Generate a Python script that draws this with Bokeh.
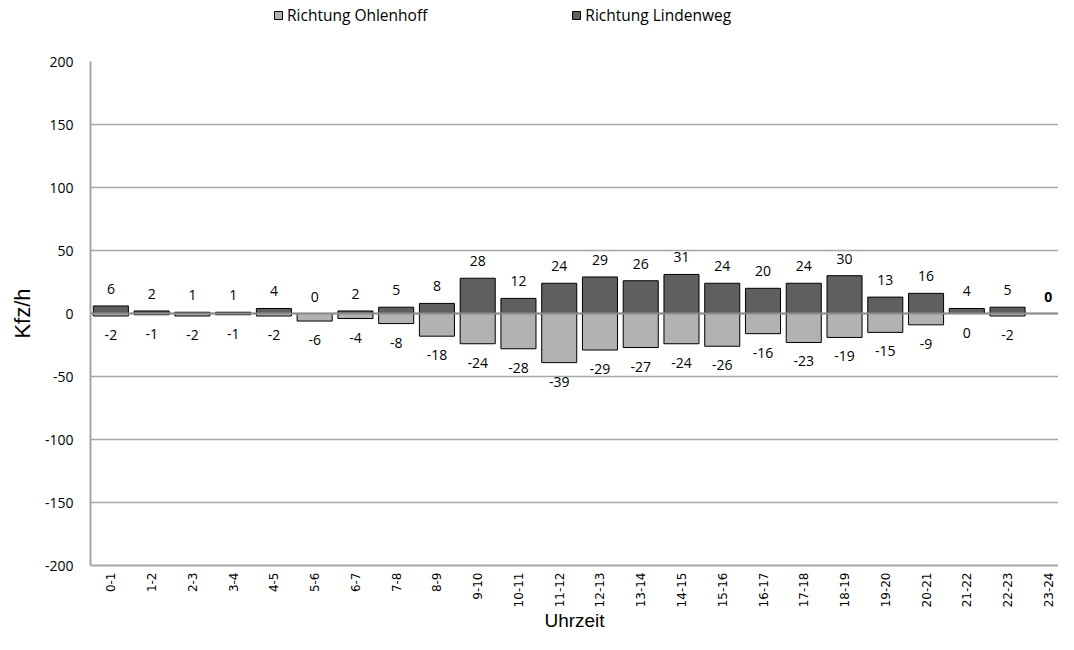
from bokeh.plotting import figure
from bokeh.layouts import column
from bokeh.models import ColumnDataSource, Span, Legend, LegendItem, FixedTicker, Range1d
from bokeh.core.properties import value
from bokeh.embed import file_html
from bokeh.resources import INLINE
import math

hours = ["0-1", "1-2", "2-3", "3-4", "4-5", "5-6", "6-7", "7-8", "8-9", "9-10",
         "10-11", "11-12", "12-13", "13-14", "14-15", "15-16", "16-17", "17-18",
         "18-19", "19-20", "20-21", "21-22", "22-23", "23-24"]
lindenweg = [6, 2, 1, 1, 4, 0, 2, 5, 8, 28, 12, 24, 29, 26, 31, 24, 20, 24, 30, 13, 16, 4, 5, 0]
ohlenhoff = [-2, -1, -2, -1, -2, -6, -4, -8, -18, -24, -28, -39, -29, -27, -24, -26, -16, -23,
             -19, -15, -9, 0, -2, 0]
y_ticks = [-200, -150, -100, -50, 0, 50, 100, 150, 200]
series_names = ["Richtung Ohlenhoff", "Richtung Lindenweg"]

DARK = "#5f5f5f"
LIGHT = "#b2b2b2"
GRID = "#a6a6a6"

# category centres on a numeric axis (the last category reaches the window edge)
xc = [i + 0.5 for i in range(len(hours))]

p = figure(x_range=Range1d(0, 23.75), y_range=(-200, 200), width=1058, height=594,
           output_backend="svg", toolbar_location=None,
           min_border_left=90, min_border_right=0, min_border_top=21, min_border_bottom=69)
p.outline_line_color = None
p.background_fill_color = "white"

src_l = ColumnDataSource(dict(x=xc, top=lindenweg,
                              lab=[str(v) for v in lindenweg],
                              style=["bold" if i == len(hours) - 1 else "normal" for i in range(len(hours))]))
src_o = ColumnDataSource(dict(x=xc[:-1], bottom=ohlenhoff[:-1],
                              lab=[str(v) for v in ohlenhoff[:-1]]))
src_o_bars = ColumnDataSource(dict(x=xc, bottom=ohlenhoff))

p.vbar(x="x", top=0, bottom="bottom", width=0.86, source=src_o_bars,
       fill_color=LIGHT, line_color="black", line_width=1)
p.vbar(x="x", top="top", bottom=0, width=0.86, source=src_l,
       fill_color=DARK, line_color="black", line_width=1)

p.add_layout(Span(location=0, dimension="width", line_color="#8c8c8c", line_width=2))

p.text(x="x", y="top", text="lab", source=src_l, y_offset=-17,
       text_align="center", text_baseline="middle", text_font=value("Open Sans"),
       text_font_size="14px", text_color="black", text_font_style="style")
p.text(x="x", y="bottom", text="lab", source=src_o, y_offset=19,
       text_align="center", text_baseline="middle", text_font=value("Open Sans"),
       text_font_size="14px", text_color="black")

# axes
p.xgrid.grid_line_color = None
p.ygrid.grid_line_color = GRID
p.ygrid.grid_line_width = 1.5
p.yaxis.ticker = FixedTicker(ticks=y_ticks)
p.yaxis.major_label_overrides = {t: str(t) for t in y_ticks}
p.yaxis.axis_line_color = GRID
p.yaxis.axis_line_width = 2
p.yaxis.major_tick_line_color = None
p.yaxis.minor_tick_line_color = None
p.yaxis.major_tick_out = 0
p.yaxis.major_tick_in = 0
p.yaxis.minor_tick_out = 0
p.yaxis.major_label_text_font = "Open Sans"
p.yaxis.major_label_text_font_size = "14px"
p.yaxis.major_label_text_color = "black"
p.yaxis.major_label_standoff = 17
p.yaxis.axis_label = "Kfz/h"
p.yaxis.axis_label_text_font = "Liberation Sans"
p.yaxis.axis_label_text_font_size = "22px"
p.yaxis.axis_label_text_font_style = "normal"
p.yaxis.axis_label_text_color = "black"
p.yaxis.axis_label_standoff = 7

p.xaxis.ticker = FixedTicker(ticks=xc)
p.xaxis.major_label_overrides = {c: h for c, h in zip(xc, hours)}
p.xaxis.axis_line_color = GRID
p.xaxis.axis_line_width = 2
p.xaxis.major_tick_line_color = None
p.xaxis.minor_tick_line_color = None
p.xaxis.major_tick_out = 0
p.xaxis.major_tick_in = 0
p.xaxis.minor_tick_out = 0
p.xaxis.major_label_orientation = math.pi / 2
p.xaxis.major_label_text_font = "DejaVu Sans"
p.xaxis.major_label_text_font_size = "12px"
p.xaxis.major_label_text_color = "black"
p.xaxis.major_label_standoff = 7
p.xaxis.axis_label = "Uhrzeit"
p.xaxis.axis_label_text_font = "Liberation Sans"
p.xaxis.axis_label_text_font_size = "19px"
p.xaxis.axis_label_text_font_style = "normal"
p.xaxis.axis_label_text_color = "black"
p.xaxis.axis_label_standoff = 0

# legend strip above the chart (its renderers are hidden; only the legend shows)
lf = figure(width=1058, height=40, x_range=(0, 24), y_range=(-200, 200),
            output_backend="svg", toolbar_location=None,
            x_axis_location=None, y_axis_location=None, min_border=0)
lf.outline_line_color = None
lf.grid.grid_line_color = None
lr_o = lf.vbar(x="x", top=0, bottom="bottom", width=0.86, source=src_o_bars,
               fill_color=LIGHT, line_color="black", line_width=1, visible=False)
lr_l = lf.vbar(x="x", top="top", bottom=0, width=0.86, source=src_l,
               fill_color=DARK, line_color="black", line_width=1, visible=False)
legend = Legend(items=[LegendItem(label=series_names[0], renderers=[lr_o]),
                       LegendItem(label=series_names[1], renderers=[lr_l])],
                orientation="horizontal", location=(183, 14), spacing=144,
                padding=0, margin=0, border_line_color=None, background_fill_alpha=0,
                inactive_fill_alpha=0,
                glyph_width=10, glyph_height=10, label_standoff=4,
                label_text_font="Open Sans", label_text_font_size="15.5px",
                label_text_color="black", label_height=20)
lf.add_layout(legend)

layout = column(lf, p, spacing=0)
open("out.html", "w").write(file_html(layout, INLINE))
